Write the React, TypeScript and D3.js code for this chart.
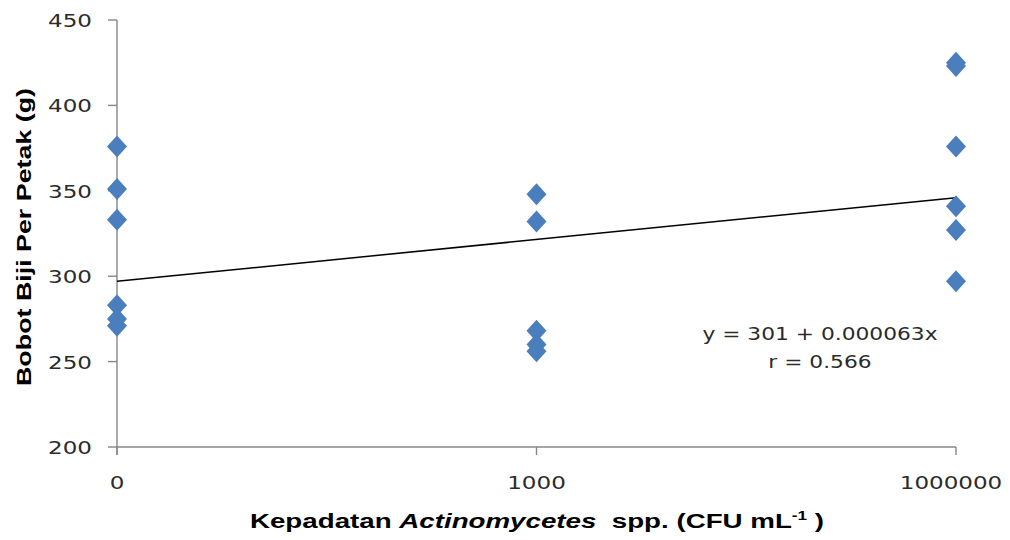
import React from 'react';
import * as d3 from 'd3';

// categories on the x axis (category axis, points on tick marks)
const categories = ['0', '1000', '1000000'];

const values0 = [376, 351, 333, 283, 275, 271];
const values1000 = [348, 332, 268, 260, 256];
const values1000000 = [425, 423, 376, 341, 327, 297];

// trend line values at first and last category
const trendValues = [297, 346];

const yTicks = [200, 250, 300, 350, 400, 450];

const equationLines = ['y = 301 + 0.000063x', 'r = 0.566'];

const W = 1010;
const H = 540;

const App: React.FC = () => {
    const x = d3.scalePoint<string>().domain(categories).range([117, 956]).padding(0);
    const y = d3.scaleLinear().domain([200, 450]).range([447, 20]);

    const points = [
        ...values0.map((v) => ({ c: categories[0], v })),
        ...values1000.map((v) => ({ c: categories[1], v })),
        ...values1000000.map((v) => ({ c: categories[2], v })),
    ];

    const line = d3
        .line<number>()
        .x((_, i) => x(categories[i === 0 ? 0 : categories.length - 1])!)
        .y((d) => y(d));

    const axisColor = '#878787';
    const markColor = '#4A7EBD';
    const textColor = '#2b2b2b';
    const sx = 1.28; // horizontal stretch of the source image

    const diamond = (cx: number, cy: number) =>
        `M${cx},${cy - 11}L${cx + 10},${cy}L${cx},${cy + 11}L${cx - 10},${cy}Z`;

    return (
        <div style={{ position: 'absolute', left: 0, top: 0 }}>
            <svg width={W} height={H} style={{ display: 'block', background: '#fff' }}>
                {/* y axis */}
                <line x1={117} x2={117} y1={y(450)} y2={455} stroke={axisColor} strokeWidth={1.4} />
                {yTicks.map((t) => (
                    <g key={t}>
                        <line x1={108} x2={117} y1={y(t)} y2={y(t)} stroke={axisColor} strokeWidth={1.4} />
                        <text
                            transform={`translate(92,${y(t) + 7}) scale(${sx},1)`}
                            textAnchor="end"
                            fontFamily="DejaVu Sans"
                            fontSize={18}
                            fill={textColor}
                        >
                            {t}
                        </text>
                    </g>
                ))}

                {/* x axis */}
                <line x1={117} x2={956} y1={y(200)} y2={y(200)} stroke={axisColor} strokeWidth={1.4} />
                {categories.map((c, i) => (
                    <g key={c}>
                        <line x1={x(c)!} x2={x(c)!} y1={y(200)} y2={455} stroke={axisColor} strokeWidth={1.4} />
                        <text
                            transform={`translate(${i === categories.length - 1 ? x(c)! - 5 : x(c)!},489) scale(${sx},1)`}
                            textAnchor="middle"
                            fontFamily="DejaVu Sans"
                            fontSize={18}
                            fill={textColor}
                        >
                            {c}
                        </text>
                    </g>
                ))}

                {/* trend line */}
                <path d={line(trendValues) || ''} fill="none" stroke="#000" strokeWidth={1.5} />

                {/* points */}
                {points.map((p, i) => (
                    <path key={i} d={diamond(x(p.c)!, y(p.v))} fill={markColor} />
                ))}

                {/* equation */}
                {equationLines.map((t, i) => (
                    <text
                        key={t}
                        transform={`translate(820,${340 + i * 28}) scale(${sx},1)`}
                        textAnchor="middle"
                        fontFamily="DejaVu Sans"
                        fontSize={17}
                        fill={textColor}
                    >
                        {t}
                    </text>
                ))}

                {/* y title */}
                <text
                    transform="translate(31,237) rotate(-90)"
                    textAnchor="middle"
                    fontFamily="Liberation Sans, Arial, sans-serif"
                    fontWeight="bold"
                    fontSize={20}
                    fill="#000"
                    textLength={298}
                    lengthAdjust="spacingAndGlyphs"
                >
                    Bobot Biji Per Petak (g)
                </text>

                {/* x title */}
                <text
                    transform={`translate(537,528) scale(1.32,1)`}
                    textAnchor="middle"
                    fontFamily="Liberation Sans, Arial, sans-serif"
                    fontWeight="bold"
                    fontSize={21}
                    fill="#000"
                >
                    Kepadatan <tspan fontStyle="italic">Actinomycetes</tspan>
                    {'\u00a0 spp. (CFU mL'}
                    <tspan fontSize={13} dy={-8}>-1</tspan>
                    <tspan dy={8}>{' )'}</tspan>
                </text>
            </svg>
        </div>
    );
};

export default App;
